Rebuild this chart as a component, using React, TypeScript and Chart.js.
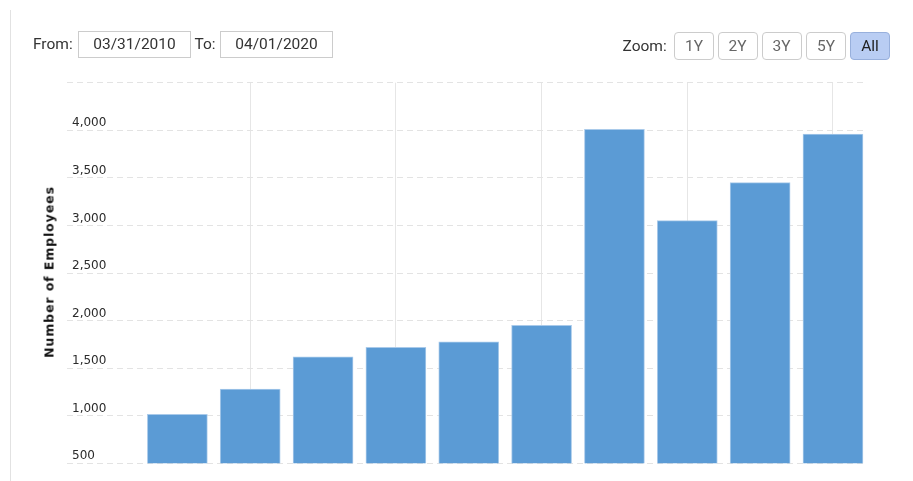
import React, { useEffect, useRef } from "react";
import { Chart, registerables } from "chart.js";

Chart.register(...registerables);

// ---- data ----
const categories = ["2010", "2011", "2012", "2013", "2014", "2015", "2016", "2017", "2018", "2019"];
const employees = [1015, 1280, 1620, 1718, 1777, 1950, 4010, 3050, 3449, 3961];
const yTicks = [500, 1000, 1500, 2000, 2500, 3000, 3500, 4000, 4500];
const yMin = 500;
const yMax = 4500;
const xGridAt = [1, 3, 5, 7, 9];
const xMin = -1.515;
const xMax = 9.43;
const fromDate = "03/31/2010";
const toDate = "04/01/2020";
const zoomButtons = ["1Y", "2Y", "3Y", "5Y", "All"];
const yTitle = "Number of Employees";

const UI_FONT = "Roboto, 'Noto Sans', Arial, sans-serif";

function ChartCanvas() {
  const ref = useRef<HTMLCanvasElement | null>(null);
  useEffect(() => {
    if (!ref.current) return;
    const chart = new Chart(ref.current, {
      type: "bar",
      data: {
        datasets: [
          {
            label: yTitle,
            data: employees.map((v, i) => ({ x: i, y: v })),
            backgroundColor: "#5b9bd5",
            borderColor: "#a9caea",
            borderWidth: 1,
            barThickness: 60,
          },
        ],
      },
      options: {
        animation: false,
        responsive: false,
        maintainAspectRatio: false,
        layout: { padding: { left: 67, right: 48.7, top: 82.7, bottom: 17.7 } },
        plugins: { legend: { display: false }, tooltip: { enabled: false } },
        scales: {
          x: {
            type: "linear",
            min: xMin,
            max: xMax,
            offset: false,
            ticks: { display: false, callback: (v: any) => categories[v] ?? "" },
            afterBuildTicks: (scale: any) => {
              scale.ticks = xGridAt.map((v) => ({ value: v }));
            },
            afterFit: (scale: any) => {
              scale.height = 0;
            },
            grid: { color: "#e6e6e6", lineWidth: 1, drawTicks: false, offset: false },
            border: { display: false },
          },
          y: {
            type: "linear",
            min: yMin,
            max: yMax,
            afterBuildTicks: (scale: any) => {
              scale.ticks = yTicks.map((v) => ({ value: v }));
            },
            afterFit: (scale: any) => {
              scale.width = 0;
            },
            ticks: {
              mirror: true,
              padding: 5,
              labelOffset: -7,
              color: "#2b2b2b",
              font: { family: "'DejaVu Sans', Verdana, sans-serif", size: 12 },
              callback: (v: any) => (Number(v) >= yMax ? "" : Number(v).toLocaleString("en-US")),
            },
            grid: { color: "#e3e3e3", lineWidth: 1, drawTicks: false, borderDash: [6, 4] } as any,
            border: { display: false, dash: [6, 4] },
          },
        },
      },
    } as any);
    return () => chart.destroy();
  }, []);
  return (
    <canvas
      ref={ref}
      width={913}
      height={481}
      style={{ position: "absolute", left: 0, top: 0, width: 913, height: 481 }}
    />
  );
}

const label = (left: number, top: number, h: number, text: string) => (
  <div
    style={{
      position: "absolute",
      left,
      top,
      height: h,
      lineHeight: `${h}px`,
      fontFamily: UI_FONT,
      fontSize: 15.5,
      color: "#333",
      whiteSpace: "nowrap",
    }}
  >
    {text}
  </div>
);

const box = (left: number, text: string) => (
  <div
    style={{
      position: "absolute",
      left,
      top: 31,
      width: 113,
      height: 27,
      boxSizing: "border-box",
      border: "1px solid #cccccc",
      lineHeight: "25px",
      textAlign: "center",
      fontFamily: UI_FONT,
      fontSize: 15.5,
      color: "#333",
      background: "#fff",
    }}
  >
    {text}
  </div>
);

export default function App() {
  const btnLeft = [674, 717.5, 761.5, 806, 850];
  return (
    <div
      style={{
        position: "fixed",
        left: 0,
        top: 0,
        width: 913,
        height: 481,
        background: "#ffffff",
        overflow: "hidden",
      }}
    >
      <div style={{ position: "absolute", left: 10, top: 10, width: 1, bottom: 0, background: "#e2e2e2" }} />
      <ChartCanvas />
      {label(33, 31, 27, "From:")}
      {box(78, fromDate)}
      {label(194.5, 31, 27, "To:")}
      {box(220, toDate)}
      {label(622.5, 32, 28, "Zoom:")}
      {zoomButtons.map((b, i) => {
        const active = b === "All";
        return (
          <div
            key={b}
            style={{
              position: "absolute",
              left: btnLeft[i],
              top: 32,
              width: 40,
              height: 28,
              boxSizing: "border-box",
              border: `1px solid ${active ? "#98b0dc" : "#cccccc"}`,
              borderRadius: 4,
              background: active ? "#b9cdf3" : "#ffffff",
              lineHeight: "26px",
              textAlign: "center",
              fontFamily: UI_FONT,
              fontSize: 15.5,
              color: active ? "#222" : "#666",
            }}
          >
            {b}
          </div>
        );
      })}
      <div
        style={{
          position: "absolute",
          left: 49,
          top: 271.7,
          transform: "translate(-50%, -50%) rotate(-90deg)",
          fontFamily: "'DejaVu Sans', Verdana, sans-serif",
          fontWeight: "bold",
          fontSize: 12.5,
          letterSpacing: 0.9,
          color: "#111",
          whiteSpace: "nowrap",
        }}
      >
        {yTitle}
      </div>
    </div>
  );
}
